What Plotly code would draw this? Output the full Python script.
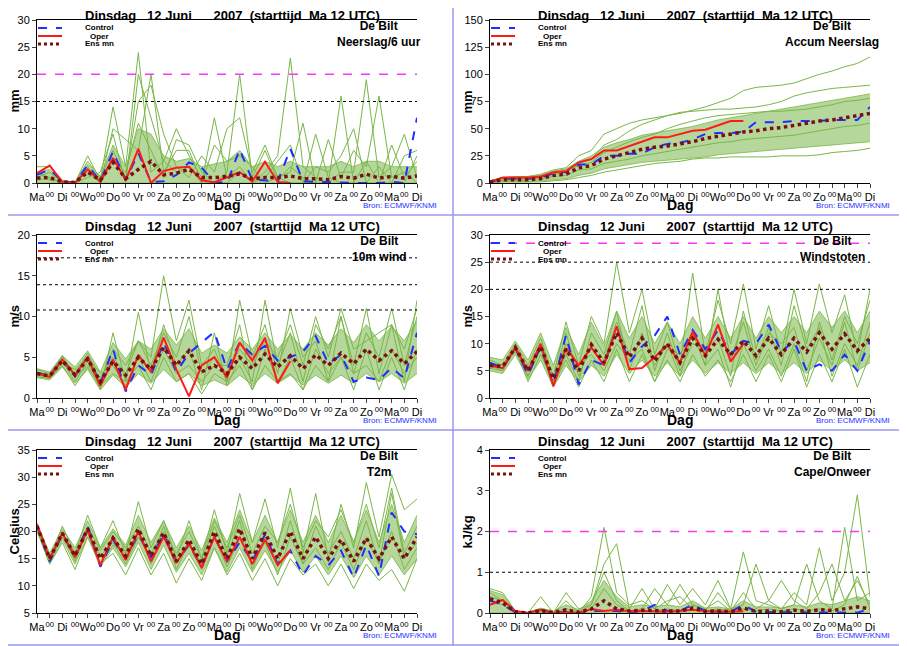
import plotly.graph_objects as go

# 12-hourly time axis in days since start (Ma 12 UTC)
days = [i / 2 for i in range(31)]
day_names = ["Ma", "Di", "Wo", "Do", "Vr", "Za", "Zo", "Ma", "Di", "Wo", "Do", "Vr", "Za", "Zo", "Ma", "Di"]

# --- Neerslag/6 uur
pr_control = [1.5, 2.5, 0.3, 0.1, 3.3, 0.3, 5.8, 0.5, 5.5, 0.2, 0.3, 1.5, 3.8, 2.8, 0.2, 0, 6.2, 0.5, 0.5, 0.2, 6.3, 0.3, 0.2, 0.1, 0.1, 0, 0, 0, 0.2, 0, 12]
pr_oper = [1.8, 3.2, 0.2, 0, 2.5, 0.3, 4.6, 0.5, 6.3, 0, 2.2, 2.8, 3.0, 0.5, 0.1, 1.0, 2.0, 0.3, 3.9, 0.2, 0]
pr_ensmn = [0.9, 1.0, 0.2, 0.1, 2.0, 0.5, 3.8, 0.8, 2.5, 4.0, 1.5, 1.8, 2.5, 1.0, 1.0, 1.2, 1.7, 0.8, 1.0, 1.0, 1.3, 0.8, 0.8, 0.6, 1.2, 0.9, 1.6, 0.9, 1.2, 0.9, 1.3]
pr_lo = [0] * 31
pr_hi = [2, 2.5, 0.4, 0.2, 3.5, 1.2, 7, 3, 10, 9, 5, 4, 4.5, 3, 3.5, 4, 6, 3, 4, 3, 4, 3, 3, 3, 4, 3, 4, 4, 3, 3, 3]
pr_members = [
    [2, 1, 0, 0, 5, 0.5, 14, 3, 24, 2, 4, 10, 5, 1, 0, 2, 20, 1, 6, 0.5, 3, 1, 0, 0, 16, 0, 0, 0, 0, 0, 5],
    [3, 3, 0.5, 0, 2, 0, 10, 8, 6, 20, 2, 6, 6, 0, 12, 1, 3, 0, 2, 5, 23, 3, 1, 0, 2, 2, 19, 1, 3, 9, 1],
    [1, 2, 0, 0, 4, 1, 6, 1, 15, 18, 9, 3, 1, 5, 2, 10, 12, 2, 7, 1, 2, 11, 0, 8, 1, 6, 3, 16, 1, 2, 0],
    [0.5, 1, 0, 0, 3, 0, 4, 2, 11, 6, 1, 8, 7, 2, 0, 0, 2, 0, 1, 4, 7, 0, 9, 1, 0, 0, 4, 0, 7, 1, 4],
    [2, 0.5, 0.3, 0, 1, 2, 9, 0, 20, 12, 4, 2, 3, 0, 7, 4, 5, 3, 0, 1, 0, 0, 3, 2, 5, 10, 0, 3, 0, 5, 6],
]

# --- Accum Neerslag
ac_control = [1, 4, 4, 4, 5, 9, 10, 17, 17, 25, 25, 27, 27, 33, 36, 37, 40, 45, 46, 46, 47, 56, 56, 56, 57, 57, 57, 58, 58, 58, 70]
ac_oper = [1, 5, 5, 5, 6, 10, 11, 19, 22, 30, 30, 34, 38, 42, 42, 45, 48, 49, 53, 57, 57]
ac_ensmn = [1, 3, 3, 3, 4, 7, 8, 14, 16, 22, 25, 28, 31, 33, 34, 36, 38, 41, 43, 45, 47, 48, 50, 51, 53, 55, 57, 58, 60, 62, 64]
ac_lo = [0, 1, 1, 1, 2, 3, 4, 7, 9, 13, 15, 17, 19, 20, 21, 22, 23, 24, 26, 27, 28, 29, 30, 31, 32, 33, 34, 35, 36, 37, 38]
ac_hi = [2, 5, 5, 6, 7, 11, 13, 20, 25, 33, 37, 40, 44, 46, 48, 50, 52, 55, 58, 60, 62, 64, 66, 68, 70, 72, 74, 76, 78, 80, 82]
ac_members = [
    [2, 5, 6, 6, 8, 12, 14, 25, 30, 45, 50, 55, 58, 60, 62, 64, 67, 70, 74, 78, 85, 88, 89, 90, 92, 96, 100, 103, 107, 110, 116],
    [0, 1, 1, 1, 1, 2, 3, 5, 7, 10, 12, 14, 16, 18, 19, 20, 22, 23, 23, 24, 24, 24, 24, 25, 25, 25, 26, 28, 29, 30, 32],
    [1, 3, 3, 3, 5, 8, 10, 18, 22, 35, 40, 48, 54, 58, 62, 65, 66, 67, 68, 68, 69, 70, 72, 75, 80, 83, 85, 87, 88, 89, 90],
    [0, 2, 2, 3, 4, 6, 7, 12, 13, 18, 20, 22, 25, 27, 29, 31, 33, 35, 37, 38, 40, 41, 42, 43, 44, 46, 48, 50, 52, 53, 55],
    [1, 4, 4, 5, 6, 9, 11, 16, 19, 28, 33, 38, 42, 45, 50, 54, 57, 60, 62, 63, 64, 65, 66, 66, 67, 68, 70, 72, 75, 76, 78],
]

# --- 10m wind
wi_control = [3.1, 2.7, 4.7, 2.7, 5.0, 1.8, 6.0, 0.8, 4.0, 2.8, 6.8, 3.2, 5.5, 6.8, 8.1, 3.5, 6.8, 5.3, 6.4, 4.6, 5.0, 5.7, 7.6, 4.2, 5.3, 2.0, 2.5, 2.2, 3.7, 2.4, 8]
wi_oper = [3.0, 2.6, 4.7, 2.8, 5.0, 1.5, 4.7, 1.0, 5.3, 3.2, 7.4, 3.5, 0.2, 4.0, 5.0, 2.5, 6.8, 4.6, 7.4, 1.8, 4.5]
wi_ensmn = [3, 2.7, 4.6, 2.8, 4.8, 2, 4.5, 2.8, 5, 3.5, 6.2, 4, 5.8, 3.2, 4, 3, 5, 3.6, 5.4, 3.8, 5.2, 3.6, 5.3, 4, 5.5, 4.2, 6, 4.6, 5.8, 4.2, 5.7]
wi_lo = [2.5, 2.2, 3.8, 1.8, 3.5, 1, 2.8, 1.3, 3, 1.8, 3.5, 2, 3, 1.5, 2.2, 1.5, 2.8, 1.6, 3, 1.8, 2.8, 1.6, 2.8, 1.8, 2.8, 1.8, 3, 2, 3, 1.8, 3]
wi_hi = [3.6, 3.2, 5.2, 3.8, 5.8, 3.2, 6.8, 4.8, 7, 6, 8.5, 6.5, 8.5, 5.5, 6.5, 5.5, 7.5, 6, 8, 6, 7.8, 6, 8, 6.5, 8.5, 6.8, 9, 7, 8.8, 7, 9.5]
wi_members = [
    [3.5, 3, 5, 3, 5.5, 2, 6, 4, 7, 5, 15, 7, 12, 4, 6, 2, 12, 5, 9, 3, 11, 5, 7, 2, 10, 4, 11, 3, 9, 2, 12],
    [2.8, 2.5, 4.5, 2, 4.5, 1, 8, 2, 10.5, 3, 9, 4, 6, 1, 8, 1.5, 5, 2, 12, 4, 8, 2, 9, 6, 10, 3, 8, 5, 11, 4, 10],
    [3, 2.5, 4.2, 3.5, 5, 3, 4, 1.5, 5, 2, 6, 3, 4, 2, 4, 4, 9, 1, 6, 2, 5, 1, 6, 3, 5, 1, 6, 1, 5, 1, 6],
    [3.2, 2.8, 5.2, 2.5, 4, 2.5, 5, 3, 7, 4, 8, 5, 10, 3, 5, 3, 6, 4, 7, 5, 9, 4, 10, 5, 11, 6, 7, 8, 9, 6, 11],
    [2.6, 2.4, 4, 1.5, 3.8, 1.5, 3, 2, 4, 1, 5, 2, 3, 0.5, 3, 2, 4, 1, 4, 2, 3, 1, 4, 2, 5, 3, 4, 2, 6, 3, 5],
]

# --- Windstoten
gu_control = [6.5, 5.5, 9.2, 4.2, 9.5, 2.5, 11.5, 2.5, 7.0, 6.0, 13.0, 6.5, 9.5, 11.5, 15.0, 8.0, 12.5, 9.0, 12.5, 8.0, 10.5, 10.0, 13.5, 8.5, 10.5, 5.0, 6.2, 5.0, 8.0, 5.0, 10.5]
gu_oper = [6.0, 5.5, 9.3, 5.0, 10.0, 2.2, 9.2, 6.0, 9.3, 6.0, 13.2, 5.3, 5.5, 7.5, 9.8, 6.5, 12.2, 7.8, 13.5, 6.7, 10.0]
gu_ensmn = [6, 5.8, 9.3, 5, 9.5, 3.5, 9, 5, 9.8, 6.5, 12, 7.5, 11, 6.8, 10, 6.5, 11, 7.8, 10.8, 8, 10.5, 7.8, 11, 8, 11, 8.5, 12, 9, 11.8, 8.7, 11]
gu_lo = [5, 4.5, 8, 3.5, 7, 2, 6, 3, 6, 4, 8, 4.5, 7, 4, 6.5, 4, 7, 4.5, 6.5, 4.5, 6.5, 4.5, 6.5, 4.5, 6.5, 4.5, 7, 5, 7, 5, 6.5]
gu_hi = [7.5, 7, 10.5, 7, 12, 6, 13, 8, 14, 9.5, 16, 11, 15, 10, 14, 10, 15, 11, 15, 11, 15, 11, 15, 12, 15, 12, 16, 13, 16, 12, 16]
gu_members = [
    [7, 6, 10, 6, 11, 4, 14, 6, 15, 10, 25, 12, 20, 8, 14, 6, 23, 8, 18, 10, 21, 9, 17, 8, 20, 10, 21, 12, 19, 8, 20],
    [6, 5, 9, 4, 9, 2, 8, 3, 12, 8, 16, 5, 12, 6, 10, 4, 12, 6, 20, 7, 14, 6, 12, 10, 13, 5, 11, 6, 14, 5, 12],
    [6.5, 6, 8.5, 5, 10, 4, 10, 6, 8, 5, 10, 7, 9, 3, 9, 8, 12, 6, 9, 2, 10, 5, 9, 4, 10, 3, 14, 7, 15, 10, 18],
    [5.5, 5, 9, 3, 8, 3, 12, 4, 10, 7, 14, 8, 17, 5, 12, 5, 10, 9, 11, 4, 16, 7, 13, 6, 17, 9, 13, 4, 10, 6, 14],
    [6, 5.5, 9.5, 4, 10, 2.5, 7, 2, 7, 3, 9, 3, 8, 3, 7, 3, 8, 4, 7, 3, 8, 3, 8, 3, 9, 2, 8, 3, 9, 2, 8],
]

# --- T2m
t2_control = [21, 14.5, 19.5, 15.5, 21, 13.5, 18.5, 15, 19.5, 15.2, 19.5, 14.5, 17.5, 13.5, 19, 14.5, 18, 14.5, 19.5, 14, 16.5, 12, 15.5, 13.8, 16.5, 11.5, 17.5, 11.8, 23.5, 20, 19.5]
t2_oper = [21.3, 15, 19.7, 15.3, 20.3, 13.8, 19, 14.8, 20, 14.5, 19, 14.2, 17.8, 13.3, 19, 14.5, 19, 14, 18.5, 13.8, 16.5]
t2_ensmn = [21, 15, 19.7, 15.5, 20.5, 15, 18.8, 15.5, 20.5, 15.5, 19.8, 14.5, 18.5, 14, 20, 15, 20.5, 15, 19.8, 15, 20, 15, 19, 15, 18.5, 14.5, 18.8, 15, 19, 15, 19]
t2_lo = [20, 14, 18.5, 14, 19, 13.5, 17, 13.5, 18, 13, 17.5, 12.5, 16, 12, 17, 12.5, 17, 12.5, 16.5, 12.5, 16.5, 12.5, 15.5, 12, 15.5, 11.5, 15.5, 12, 15.5, 12, 15]
t2_hi = [21.5, 16, 20.5, 17, 22, 17, 20.5, 17.5, 23, 18, 22, 17, 21, 16.5, 22.5, 18, 24, 18, 23, 18, 24, 18, 23, 18, 23, 18, 24, 18, 25, 18, 23]
t2_members = [
    [21.5, 15, 21, 16, 23, 17, 22, 16, 25.5, 17, 22, 15, 22, 15, 24, 16, 27, 18, 26, 17, 28, 16, 27, 15, 25, 17, 29, 19, 30.5, 24, 26],
    [20.5, 14, 18, 13, 19, 14, 16, 12, 17, 12, 16, 10.5, 15, 11, 17, 12, 16, 11, 15, 10, 15, 12, 14, 10, 14, 9.5, 14, 11, 13, 9, 15],
    [21, 15, 19.5, 16, 21, 16.5, 20, 17, 21, 16, 20, 16, 20, 15, 22, 17, 23, 16, 21, 18, 25, 17, 22, 19, 24, 18, 25, 17, 28, 16, 21],
    [20.8, 14.5, 19, 15, 20, 15.5, 18, 14, 19, 15, 21, 13, 18, 13, 19, 13.5, 19, 14, 18, 12, 19, 14, 17, 13, 18, 13, 19, 14, 20, 13, 17],
    [21, 15.5, 20, 14.5, 20.5, 14, 17.5, 16, 20, 14, 19, 15, 18, 14, 21, 15.5, 22, 13, 19, 14, 22, 14, 21, 16, 20, 15, 22, 14, 27, 15, 18],
]

# --- Cape/Onweer
ca_control = [0.3, 0.2, 0.02, 0, 0.08, 0, 0.03, 0, 0.05, 0.05, 0.05, 0.02, 0.05, 0.2, 0.05, 0.05, 0.2, 0.05, 0.03, 0.03, 0.2, 0.03, 0.02, 0.02, 0.02, 0.01, 0.01, 0.01, 0.01, 0.01, 0.1]
ca_oper = [0.2, 0.32, 0.05, 0, 0.08, 0, 0.02, 0, 0.1, 0.05, 0.08, 0.04, 0.05, 0.04, 0.03, 0.05, 0.08, 0.04, 0.03, 0.03, 0.04]
ca_ensmn = [0.35, 0.25, 0.03, 0, 0.06, 0.01, 0.08, 0.02, 0.1, 0.3, 0.1, 0.05, 0.07, 0.05, 0.05, 0.05, 0.12, 0.04, 0.05, 0.03, 0.12, 0.04, 0.05, 0.03, 0.07, 0.04, 0.08, 0.06, 0.1, 0.15, 0.1]
ca_lo = [0] * 31
ca_hi = [0.55, 0.45, 0.05, 0.02, 0.12, 0.05, 0.2, 0.08, 0.3, 0.8, 0.4, 0.15, 0.2, 0.15, 0.2, 0.15, 0.3, 0.12, 0.15, 0.1, 0.3, 0.15, 0.15, 0.12, 0.2, 0.15, 0.25, 0.2, 0.3, 0.4, 0.3]
ca_members = [
    [0.6, 0.5, 0.05, 0, 0.1, 0, 0.3, 0, 0.4, 2.1, 0.5, 0.2, 0.3, 0.1, 0.7, 0.2, 0.6, 0.2, 0.8, 0.1, 1.5, 0.3, 0.2, 0.1, 0.5, 0.2, 1.6, 0.3, 1.0, 2.9, 0.4],
    [0.4, 0.3, 0.02, 0, 0.4, 0, 0.5, 0.1, 0.2, 1.2, 1.7, 0.1, 0.6, 0.1, 0.3, 0.4, 0.1, 0.05, 0.5, 0.1, 0.2, 1.2, 0.3, 0.1, 0.2, 1.2, 0.3, 0.1, 2.1, 0.3, 0.5],
    [0.5, 0.3, 0.03, 0, 0.05, 0.02, 0.1, 0.02, 0.2, 1.0, 0.3, 0.05, 0.1, 0.6, 0.2, 0.7, 0.2, 0.1, 0.3, 0.05, 0.5, 0.1, 0.3, 0.8, 0.3, 0.1, 0.5, 1.2, 0.3, 0.8, 0.2],
    [0.3, 0.2, 0.01, 0, 0.02, 0, 0.05, 0, 0.1, 0.6, 0.2, 0.05, 0.05, 0.05, 0.1, 0.05, 0.2, 0.05, 0.1, 0.05, 0.1, 0.05, 0.1, 0.05, 0.1, 0.05, 0.1, 0.05, 0.2, 0.9, 0.1],
]

panels = [
    dict(name="Neerslag/6 uur", unit="mm", rng=[0, 30], dt=5, c=pr_control, o=pr_oper, m=pr_ensmn, lo=pr_lo, hi=pr_hi, mem=pr_members,
         magenta=[20], dotted=[15]),
    dict(name="Accum Neerslag", unit="mm", rng=[0, 150], dt=25, c=ac_control, o=ac_oper, m=ac_ensmn, lo=ac_lo, hi=ac_hi, mem=ac_members,
         magenta=[], dotted=[]),
    dict(name="10m wind", unit="m/s", rng=[0, 20], dt=5, c=wi_control, o=wi_oper, m=wi_ensmn, lo=wi_lo, hi=wi_hi, mem=wi_members,
         magenta=[], dotted=[10.8, 13.9, 17.2]),
    dict(name="Windstoten", unit="m/s", rng=[0, 30], dt=5, c=gu_control, o=gu_oper, m=gu_ensmn, lo=gu_lo, hi=gu_hi, mem=gu_members,
         magenta=[28.5], dotted=[20, 25]),
    dict(name="T2m", unit="Celsius", rng=[5, 35], dt=5, c=t2_control, o=t2_oper, m=t2_ensmn, lo=t2_lo, hi=t2_hi, mem=t2_members,
         magenta=[], dotted=[]),
    dict(name="Cape/Onweer", unit="kJ/kg", rng=[0, 4], dt=1, c=ca_control, o=ca_oper, m=ca_ensmn, lo=ca_lo, hi=ca_hi, mem=ca_members,
         magenta=[2], dotted=[1]),
]

# page puts the figure 8px in from the top-left, so the figure is a bit smaller
OFF = 8
W, H = 907 - OFF, 646 - OFF
GREEN = "#7ab648"
FONT = "Liberation Sans"

tickvals, ticktext = [], []
for d in range(16):
    tickvals.append(d)
    ticktext.append(day_names[d])
    if d < 15:
        tickvals.append(d + 0.5)
        ticktext.append("<sup>00</sup>")

fig = go.Figure()
layout = dict(width=W, height=H, margin=dict(l=0, r=0, t=0, b=0), showlegend=False,
              paper_bgcolor="white", plot_bgcolor="white", font=dict(family=FONT, color="black"))
shapes, annotations = [], []


def px(x):
    return (x - OFF) / W


def py(y):
    return 1 - (y - OFF) / H


for k, p in enumerate(panels):
    n = k + 1
    col, row = k % 2, k // 2
    x0 = 37 + col * 453
    x1 = x0 + 380
    y0 = 20 + row * 215
    y1 = y0 + 163
    sfx = "" if n == 1 else str(n)
    xa, ya = "x" + sfx, "y" + sfx
    xax, yax = "xaxis" + sfx, "yaxis" + sfx

    # ensemble plume: spread band plus members
    fig.add_trace(go.Scatter(x=days, y=p["lo"], mode="lines", line=dict(color=GREEN, width=0.8),
                             xaxis=xa, yaxis=ya, hoverinfo="skip"))
    fig.add_trace(go.Scatter(x=days, y=p["hi"], mode="lines", line=dict(color=GREEN, width=0.8),
                             fill="tonexty", fillcolor="rgba(122,182,72,0.55)", xaxis=xa, yaxis=ya, hoverinfo="skip"))
    for mem in p["mem"]:
        fig.add_trace(go.Scatter(x=days, y=mem, mode="lines", line=dict(color=GREEN, width=1),
                                 xaxis=xa, yaxis=ya))
    fig.add_trace(go.Scatter(x=days, y=p["c"], mode="lines", line=dict(color="#1f2fff", width=2, dash="dash"),
                             xaxis=xa, yaxis=ya))
    fig.add_trace(go.Scatter(x=days[:len(p["o"])], y=p["o"], mode="lines", line=dict(color="#ff1a1a", width=2),
                             xaxis=xa, yaxis=ya))
    fig.add_trace(go.Scatter(x=days, y=p["m"], mode="lines", line=dict(color="#7a1010", width=3.5, dash="dot"),
                             xaxis=xa, yaxis=ya))

    for v in p["magenta"]:
        shapes.append(dict(type="line", xref=f"{xa} domain", yref=ya, x0=0, x1=1, y0=v, y1=v,
                           line=dict(color="#ff33ff", width=1.5, dash="dash")))
    for v in p["dotted"]:
        shapes.append(dict(type="line", xref=f"{xa} domain", yref=ya, x0=0, x1=1, y0=v, y1=v,
                           line=dict(color="black", width=1, dash="dot")))

    layout[xax] = dict(domain=[px(x0), px(x1)], anchor=ya, range=[0, 15], tickvals=tickvals, ticktext=ticktext,
                       ticks="outside", ticklen=4, showgrid=False, zeroline=False, showline=True, mirror=True,
                       linecolor="black", tickfont=dict(size=11), tickangle=0, automargin=False)
    layout[yax] = dict(domain=[py(y1), py(y0)], anchor=xa, range=p["rng"], dtick=p["dt"], ticks="outside",
                       ticklen=4, showgrid=False, zeroline=False, showline=True, linecolor="black", automargin=False,
                       tickfont=dict(size=11))
    layout[f"yaxis{n + 6}"] = dict(overlaying=ya, anchor=xa, side="right", range=p["rng"], dtick=p["dt"],
                                   ticks="outside", ticklen=4, showgrid=False, zeroline=False, showline=True,
                                   linecolor="black", tickfont=dict(size=11), automargin=False)

    # axis titles as fixed annotations
    annotations.append(dict(xref="paper", yref="paper", x=px(x0 - 23), y=py((y0 + y1) / 2), text=f"<b>{p['unit']}</b>",
                            textangle=-90, showarrow=False, font=dict(size=13), xanchor="center", yanchor="middle"))
    annotations.append(dict(xref="paper", yref="paper", x=px(x0 + 190), y=py(y1 + 22), text="<b>Dag</b>",
                            showarrow=False, font=dict(size=14), xanchor="center", yanchor="middle"))
    ty = y0 - 9 if row > 0 else y0 - 5
    annotations.append(dict(xref="paper", yref="paper", x=px(x0 + 195), y=py(ty), text="<b>Dinsdag   12 Juni      2007  (starttijd  Ma 12 UTC)</b>",
                            showarrow=False, font=dict(size=13), xanchor="center", yanchor="middle"))
    annotations.append(dict(xref="paper", yref="paper", x=px(x1 - 38), y=py(y0 + 14), text=f"<b>De Bilt<br>{p['name']}</b>",
                            showarrow=False, font=dict(size=12), xanchor="center", yanchor="middle", align="center"))
    annotations.append(dict(xref="paper", yref="paper", x=px(x1 + 22), y=py(y1 + 22), text="Bron: ECMWF/KNMI",
                            showarrow=False, font=dict(size=8, color="#1f2fff"), xanchor="right", yanchor="middle"))
    # in-panel legend
    for j, (lbl, lc, dash, lw) in enumerate([("Control", "#1f2fff", "dash", 2), ("Oper", "#ff1a1a", "solid", 2),
                                             ("Ens mn", "#7a1010", "dot", 3)]):
        yy = y0 + 8 + j * 8
        shapes.append(dict(type="line", xref="paper", yref="paper", x0=px(x0 + 1), x1=px(x0 + 25), y0=py(yy), y1=py(yy),
                           line=dict(color=lc, width=lw, dash=dash)))
        annotations.append(dict(xref="paper", yref="paper", x=px(x0 + 62), y=py(yy), text=f"<b>{lbl}</b>",
                                showarrow=False, font=dict(size=8), xanchor="center", yanchor="middle"))

# panel borders
for xx in [453, 905]:
    shapes.append(dict(type="line", xref="paper", yref="paper", x0=px(xx), x1=px(xx), y0=0, y1=1,
                       line=dict(color="#9999ee", width=1.5)))
for yy in [215, 430, 645]:
    shapes.append(dict(type="line", xref="paper", yref="paper", x0=0, x1=1, y0=py(yy), y1=py(yy),
                       line=dict(color="#9999ee", width=1.5)))

layout["shapes"] = shapes
layout["annotations"] = annotations
fig.update_layout(**layout)
fig.write_html("out.html")
